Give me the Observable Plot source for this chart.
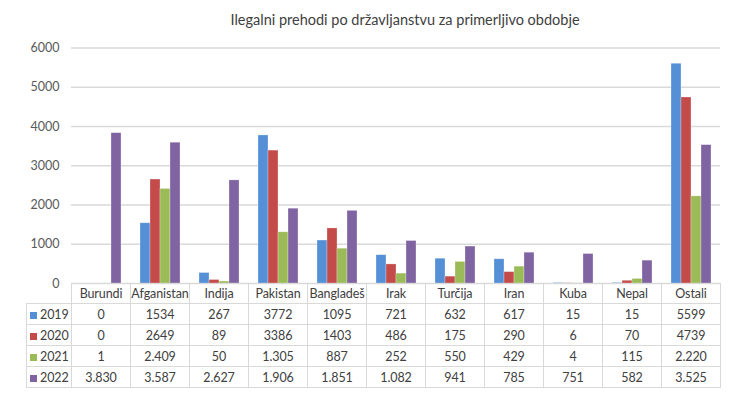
<!DOCTYPE html>
<html>
<head>
<meta charset="utf-8">
<script src="https://cdn.jsdelivr.net/npm/d3@7"></script>
<script src="https://cdn.jsdelivr.net/npm/@observablehq/plot@0.6"></script>
<style>
  html, body { margin: 0; padding: 0; background: #fff; }
  #wrap { position: relative; width: 736px; height: 393px; font-family: Lato, "Open Sans", sans-serif; color: #595959; }
  #title { position: absolute; top: 11px; left: 405px; transform: translateX(-50%); white-space: nowrap; font-size: 14.5px; color: #404040; }
  #chart { position: absolute; top: 0; left: 0; }
  #tbl { position: absolute; top: 283px; left: 26px; border-collapse: collapse; table-layout: fixed; width: 694px; font-size: 12.5px; color: #404040; }
  #tbl td { border: 1.5px solid #d9d9d9; text-align: center; padding: 0; height: 21px; box-sizing: border-box; white-space: nowrap; letter-spacing: -0.1px; }
  #tbl tr.head td { height: 20px; }
  #tbl td.lab { text-align: left; padding-left: 3px; }
  #tbl td.empty { border: none; border-right: 1.5px solid #d9d9d9; }
  .sw { display: inline-block; width: 7px; height: 7px; margin-right: 3px; vertical-align: 0px; }
</style>
</head>
<body>
<div id="wrap">
  <div id="title">Ilegalni prehodi po državljanstvu za primerljivo obdobje</div>
  <div id="chart"></div>
  <table id="tbl"></table>
</div>
<script>
const categories = ["Burundi","Afganistan","Indija","Pakistan","Bangladeš","Irak","Turčija","Iran","Kuba","Nepal","Ostali"];
const years = ["2019","2020","2021","2022"];
const v2019 = [0,1534,267,3772,1095,721,632,617,15,15,5599];
const v2020 = [0,2649,89,3386,1403,486,175,290,6,70,4739];
const v2021 = [1,2409,50,1305,887,252,550,429,4,115,2220];
const v2022 = [3830,3587,2627,1906,1851,1082,941,785,751,582,3525];
const dottedYears = ["2021","2022"];
const colors = ["#5590d6","#c34b4a","#9bbb59","#8064a2"];
const yTicks = [0,1000,2000,3000,4000,5000,6000];

const series = {"2019": v2019, "2020": v2020, "2021": v2021, "2022": v2022};
const data = [];
categories.forEach((c, i) => years.forEach(y => data.push({cat: c, year: y, value: series[y][i]})));

const plot = Plot.plot({
  width: 736,
  height: 300,
  marginLeft: 71,
  marginRight: 16,
  marginTop: 47.5,
  marginBottom: 17,
  style: {fontFamily: "Lato, 'Open Sans', sans-serif", fontSize: "12.5px", color: "#595959", background: "transparent"},
  fx: {domain: categories, padding: 0, axis: null},
  x: {domain: years, paddingInner: 0, paddingOuter: 0.75, axis: null},
  y: {domain: [0, 6000], ticks: yTicks, tickFormat: d3.format("d"), tickSize: 0, tickPadding: 12, label: null},
  color: {domain: years, range: colors},
  marks: [
    Plot.gridY(yTicks, {stroke: "#d9d9d9", strokeOpacity: 1, strokeWidth: 1.4}),
    Plot.barY(data, {fx: "cat", x: "year", y: "value", fill: "year", stroke: "#ffffff", strokeOpacity: 0.45, strokeWidth: 0.6})
  ]
});
document.getElementById("chart").appendChild(plot);

// data table below the chart
const fmtDot = v => v >= 1000 ? d3.format(",")(v).replace(/,/g, ".") : String(v);
const tbl = document.getElementById("tbl");
let html = '<colgroup><col style="width:45px">' + categories.map(() => '<col style="width:59px">').join("") + '</colgroup>';
html += '<tr class="head"><td class="lab empty"></td>' + categories.map(c => `<td>${c}</td>`).join("") + "</tr>";
years.forEach((y, k) => {
  const fmt = dottedYears.includes(y) ? fmtDot : (v => String(v));
  html += `<tr><td class="lab"><span class="sw" style="background:${colors[k]}"></span>${y}</td>` +
    series[y].map(v => `<td>${fmt(v)}</td>`).join("") + "</tr>";
});
tbl.innerHTML = html;
</script>
</body>
</html>
